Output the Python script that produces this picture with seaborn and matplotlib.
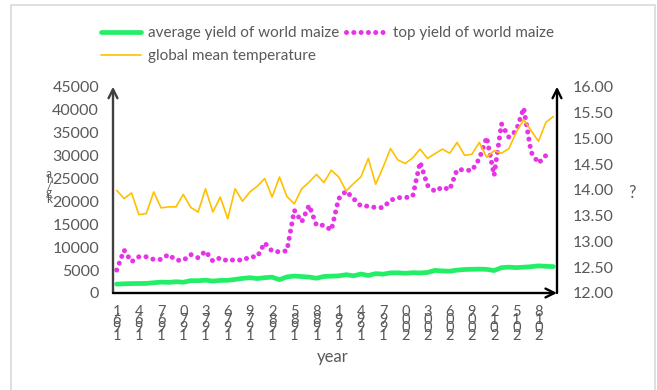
import numpy as np
import pandas as pd
import matplotlib
matplotlib.use("Agg")
import matplotlib.pyplot as plt
import matplotlib.transforms as mtransforms
from matplotlib.patches import Rectangle
import seaborn as sns

years = list(range(1961, 2021))

avg_yield = [1940, 2000, 2060, 2070, 2090, 2240, 2370, 2310, 2460, 2350,
             2700, 2680, 2790, 2600, 2740, 2770, 2960, 3180, 3340, 3150,
             3340, 3460, 2920, 3510, 3700, 3590, 3470, 3230, 3600, 3680,
             3730, 3990, 3750, 4140, 3820, 4230, 4110, 4390, 4410, 4300,
             4430, 4380, 4480, 4930, 4810, 4760, 4990, 5130, 5170, 5210,
             5160, 4900, 5530, 5640, 5540, 5630, 5740, 5920, 5820, 5760]

top_yield = [5000, 9350, 6810, 7900, 7900, 7320, 7320, 8400, 7170, 7100,
             8400, 7680, 9130, 6960, 7680, 6960, 7320, 7100, 7900, 7900,
             10940, 9130, 8980, 9200, 18040, 15500, 19130, 14780, 14780, 13700,
             20580, 22240, 20580, 18980, 18950, 18630, 18630, 20220, 20800, 20800,
             21090, 28540, 23480, 22170, 23110, 22540, 26890, 26890, 26670, 29280,
             33980, 25650, 36890, 33980, 35440, 40370, 30720, 28330, 30000, None]

temperature = [13.99, 13.83, 13.94, 13.52, 13.54, 13.96, 13.65, 13.67, 13.67, 13.91,
               13.66, 13.57, 14.02, 13.57, 13.86, 13.44, 14.02, 13.78, 13.96, 14.07,
               14.22, 13.86, 14.25, 13.87, 13.73, 14.02, 14.15, 14.30, 14.14, 14.38,
               14.25, 13.98, 14.12, 14.25, 14.61, 14.11, 14.44, 14.80, 14.58, 14.51,
               14.62, 14.79, 14.61, 14.70, 14.79, 14.71, 14.92, 14.67, 14.69, 14.92,
               14.63, 14.76, 14.71, 14.80, 15.12, 15.36, 15.15, 14.94, 15.31, 15.42]

tick_years = list(range(1961, 2019, 3))
left_ticks = list(range(0, 45001, 5000))
right_ticks = [12.0, 12.5, 13.0, 13.5, 14.0, 14.5, 15.0, 15.5, 16.0]

df = pd.DataFrame({
    "year": years,
    "avg": avg_yield,
    "top": [np.nan if v is None else v for v in top_yield],
    "temp": temperature,
})

sns.set_style("white")
plt.rcParams["font.family"] = ["Lato", "DejaVu Sans"]
TXT = "#595959"

W, H = 657, 390
fig = plt.figure(figsize=(W / 100, H / 100), dpi=100)
L, R, B, T = 113, 557, 293, 86.7
ax = fig.add_axes([L / W, 1 - B / H, (R - L) / W, (B - T) / H])
ax2 = ax.twinx()

sns.lineplot(data=df, x="year", y="avg", ax=ax, color="#22EE66", lw=3.4,
             label="average yield of world maize", legend=False)
sns.lineplot(data=df, x="year", y="top", ax=ax, color="#E633E6", lw=3.6,
             label="top yield of world maize", legend=False,
             linestyle=(0, (0.01, 1.45)), dash_capstyle="round")
sns.lineplot(data=df, x="year", y="temp", ax=ax2, color="#FFC000", lw=1.2,
             label="global mean temperature", legend=False)

ax.set_xlim(1960.5, 2020.5)
ax.set_ylim(0, 45000)
ax2.set_ylim(12, 16)

ax.set_yticks(left_ticks)
ax.set_yticklabels([str(v) for v in left_ticks])
ax2.set_yticks(right_ticks)
ax2.set_yticklabels([f"{v:.2f}" for v in right_ticks])

ax.set_xticks(tick_years)
ax.set_xticklabels(["\n".join(str(y)[::-1]) for y in tick_years],
                   linespacing=0.43)
offset = mtransforms.ScaledTranslation(8 / 100, 0, fig.dpi_scale_trans)
for lab in ax.get_xticklabels():
    lab.set_transform(lab.get_transform() + offset)

ax.tick_params(axis="y", length=0, pad=10, labelsize=11.5, labelcolor=TXT)
ax.tick_params(axis="x", length=0, pad=9, labelsize=10.5, labelcolor=TXT)
ax2.tick_params(axis="y", length=0, pad=11, labelsize=11.5, labelcolor=TXT)

for a in (ax, ax2):
    for s in a.spines.values():
        s.set_visible(False)
    a.grid(False)

ax.set_xlabel("")
ax.set_ylabel("")
ax2.set_ylabel("")

arrow_kw = dict(arrowstyle="->", lw=1.7, color="black", mutation_scale=16,
                shrinkA=0, shrinkB=0)
ax.annotate("", xy=(0, 1), xytext=(0, 0), xycoords="axes fraction",
            textcoords="axes fraction", arrowprops=dict(arrow_kw, color="#404040"),
            annotation_clip=False)
ax.annotate("", xy=(1, 1), xytext=(1, 0), xycoords="axes fraction",
            textcoords="axes fraction", arrowprops=arrow_kw, annotation_clip=False)
ax.annotate("", xy=(1, 0), xytext=(0, 0), xycoords="axes fraction",
            textcoords="axes fraction", arrowprops=arrow_kw, annotation_clip=False)

fig.text(333 / W, 1 - 357 / H, "year", ha="center", va="center",
         fontsize=12, color=TXT)
fig.text(49 / W, 1 - 186 / H, "a\nh\n/\ng\nk", ha="center", va="center",
         fontsize=8.5, color=TXT, linespacing=0.5)
fig.text(632 / W, 1 - 193 / H, "?", ha="center", va="center",
         fontsize=12, color=TXT)

h1, l1 = ax.get_legend_handles_labels()
h2, l2 = ax2.get_legend_handles_labels()
hd = dict(zip(l1 + l2, h1 + h2))
order = ["average yield of world maize", "global mean temperature",
         "top yield of world maize"]
leg = fig.legend([hd[k] for k in order], order, ncol=2, frameon=False,
                 loc="upper left", bbox_to_anchor=(101 / W, 1 - 26 / H),
                 fontsize=11, handlelength=2.6, labelspacing=0.6,
                 columnspacing=0.5, handletextpad=0.45, borderaxespad=0,
                 borderpad=0)
for t in leg.get_texts():
    t.set_color(TXT)

fig.patches.append(Rectangle((11 / W, -0.1), (655 - 11) / W, 1.1 - 5 / H,
                             transform=fig.transFigure, fill=False,
                             edgecolor="#D9D9D9", lw=1.2))

fig.savefig("out.png", dpi=100, facecolor="white")
